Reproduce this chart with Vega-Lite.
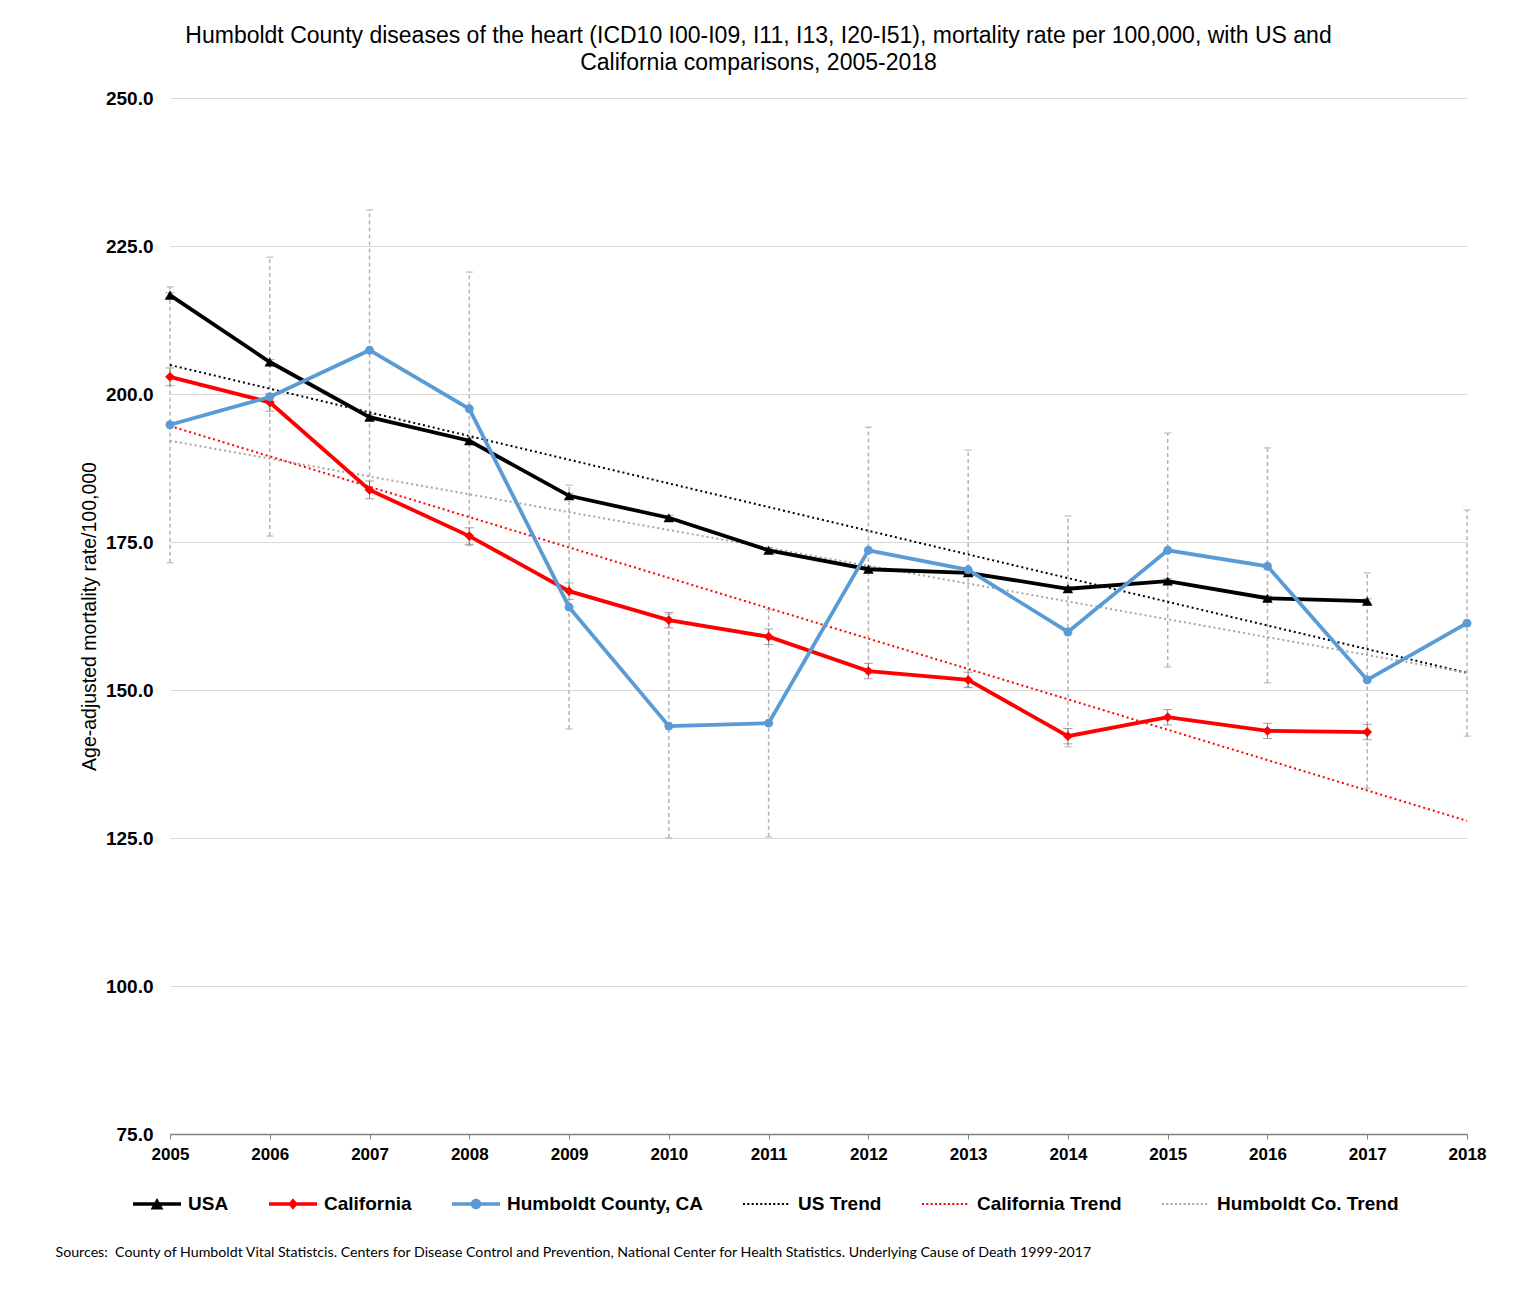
{
  "$schema": "https://vega.github.io/schema/vega-lite/v6.json",
  "width": 1297,
  "height": 1036,
  "autosize": {"type": "none"},
  "padding": {"left": 170, "top": 98, "right": 46, "bottom": 156},
  "background": "white",
  "config": {"view": {"stroke": null}, "font": "Liberation Sans"},
  "title": {
    "text": ["Humboldt County diseases of the heart (ICD10 I00-I09, I11, I13, I20-I51),  mortality rate per 100,000, with US and", "California comparisons, 2005-2018"],
    "fontSize": 23,
    "fontWeight": "normal",
    "font": "Liberation Sans",
    "color": "#000000",
    "anchor": "middle",
    "dx": -60,
    "offset": 14,
    "lineHeight": 27
  },
  "datasets": {
    "rates": [
      {"year": 2005, "series": "USA", "rate": 216.7, "lo": 216.3, "hi": 217.1},
      {"year": 2006, "series": "USA", "rate": 205.4, "lo": 205.0, "hi": 205.8},
      {"year": 2007, "series": "USA", "rate": 196.1, "lo": 195.7, "hi": 196.5},
      {"year": 2008, "series": "USA", "rate": 192.1, "lo": 191.7, "hi": 192.5},
      {"year": 2009, "series": "USA", "rate": 182.8, "lo": 182.4, "hi": 183.2},
      {"year": 2010, "series": "USA", "rate": 179.1, "lo": 178.7, "hi": 179.5},
      {"year": 2011, "series": "USA", "rate": 173.6, "lo": 173.2, "hi": 174.0},
      {"year": 2012, "series": "USA", "rate": 170.4, "lo": 170.0, "hi": 170.8},
      {"year": 2013, "series": "USA", "rate": 169.8, "lo": 169.4, "hi": 170.2},
      {"year": 2014, "series": "USA", "rate": 167.1, "lo": 166.7, "hi": 167.5},
      {"year": 2015, "series": "USA", "rate": 168.4, "lo": 168.0, "hi": 168.8},
      {"year": 2016, "series": "USA", "rate": 165.5, "lo": 165.1, "hi": 165.9},
      {"year": 2017, "series": "USA", "rate": 165.0, "lo": 164.6, "hi": 165.4},
      {"year": 2005, "series": "California", "rate": 202.9, "lo": 201.4, "hi": 204.4},
      {"year": 2006, "series": "California", "rate": 198.6, "lo": 197.1, "hi": 200.1},
      {"year": 2007, "series": "California", "rate": 183.8, "lo": 182.3, "hi": 185.3},
      {"year": 2008, "series": "California", "rate": 176.0, "lo": 174.6, "hi": 177.4},
      {"year": 2009, "series": "California", "rate": 166.7, "lo": 165.3, "hi": 168.1},
      {"year": 2010, "series": "California", "rate": 161.8, "lo": 160.5, "hi": 163.1},
      {"year": 2011, "series": "California", "rate": 159.0, "lo": 157.7, "hi": 160.3},
      {"year": 2012, "series": "California", "rate": 153.2, "lo": 151.9, "hi": 154.5},
      {"year": 2013, "series": "California", "rate": 151.7, "lo": 150.4, "hi": 153.0},
      {"year": 2014, "series": "California", "rate": 142.2, "lo": 140.9, "hi": 143.5},
      {"year": 2015, "series": "California", "rate": 145.4, "lo": 144.1, "hi": 146.7},
      {"year": 2016, "series": "California", "rate": 143.1, "lo": 141.8, "hi": 144.4},
      {"year": 2017, "series": "California", "rate": 142.9, "lo": 141.6, "hi": 144.2},
      {"year": 2005, "series": "Humboldt County, CA", "rate": 194.8, "lo": 171.5, "hi": 218.1},
      {"year": 2006, "series": "Humboldt County, CA", "rate": 199.5, "lo": 176.0, "hi": 223.1},
      {"year": 2007, "series": "Humboldt County, CA", "rate": 207.4, "lo": 183.7, "hi": 231.1},
      {"year": 2008, "series": "Humboldt County, CA", "rate": 197.5, "lo": 174.4, "hi": 220.6},
      {"year": 2009, "series": "Humboldt County, CA", "rate": 164.0, "lo": 143.4, "hi": 184.6},
      {"year": 2010, "series": "Humboldt County, CA", "rate": 143.9, "lo": 125.0, "hi": 162.8},
      {"year": 2011, "series": "Humboldt County, CA", "rate": 144.4, "lo": 125.2, "hi": 163.6},
      {"year": 2012, "series": "Humboldt County, CA", "rate": 173.6, "lo": 152.8, "hi": 194.4},
      {"year": 2013, "series": "Humboldt County, CA", "rate": 170.3, "lo": 150.5, "hi": 190.5},
      {"year": 2014, "series": "Humboldt County, CA", "rate": 159.8, "lo": 140.4, "hi": 179.4},
      {"year": 2015, "series": "Humboldt County, CA", "rate": 173.6, "lo": 153.9, "hi": 193.4},
      {"year": 2016, "series": "Humboldt County, CA", "rate": 170.9, "lo": 151.2, "hi": 190.9},
      {"year": 2017, "series": "Humboldt County, CA", "rate": 151.7, "lo": 133.4, "hi": 169.8},
      {"year": 2018, "series": "Humboldt County, CA", "rate": 161.3, "lo": 142.2, "hi": 180.4}
    ],
    "trend": [
      {"year": 2005, "series": "US Trend", "rate": 204.9},
      {"year": 2018, "series": "US Trend", "rate": 152.9},
      {"year": 2005, "series": "California Trend", "rate": 194.6},
      {"year": 2018, "series": "California Trend", "rate": 127.9},
      {"year": 2005, "series": "Humboldt Co. Trend", "rate": 192.1},
      {"year": 2018, "series": "Humboldt Co. Trend", "rate": 152.9}
    ]
  },
  "encoding": {
    "x": {
      "field": "year",
      "type": "quantitative",
      "scale": {"domain": [2005, 2018], "nice": false, "zero": false},
      "axis": {
        "values": [2005, 2006, 2007, 2008, 2009, 2010, 2011, 2012, 2013, 2014, 2015, 2016, 2017, 2018],
        "format": "d",
        "labelFlush": false,
        "labelFont": "Liberation Sans",
        "labelFontSize": 17,
        "labelFontWeight": "bold",
        "labelColor": "#000000",
        "domainColor": "#808080",
        "domainWidth": 1.5,
        "tickColor": "#808080",
        "tickSize": 5,
        "tickWidth": 1,
        "labelPadding": 7,
        "grid": false,
        "title": "Sources:\u00a0 County of Humboldt Vital Statistcis. Centers for Disease Control and Prevention, National Center for Health Statistics. Underlying Cause of Death 1999-2017",
        "titleFont": "Lato",
        "titleFontSize": 14.2,
        "titleFontWeight": "normal",
        "titleColor": "#000000",
        "titleAnchor": "start",
        "titleAlign": "left",
        "titleX": -115,
        "titleY": 118,
        "titleBaseline": "middle"
      }
    }
  },
  "layer": [
    {
      "data": {"name": "rates"},
      "transform": [{"filter": "datum.series === 'Humboldt County, CA'"}],
      "mark": {"type": "rule", "color": "#b4b4b4", "strokeWidth": 1.5, "strokeDash": [4, 3]},
      "encoding": {
        "y": {"field": "lo", "type": "quantitative", "title": "Age-adjusted mortality rate/100,000"},
        "y2": {"field": "hi"}
      }
    },
    {
      "data": {"name": "rates"},
      "transform": [{"filter": "datum.series === 'Humboldt County, CA'"}],
      "mark": {"type": "tick", "orient": "horizontal", "color": "#b4b4b4", "size": 7, "thickness": 1.5},
      "encoding": {"y": {"field": "lo", "type": "quantitative", "title": "Age-adjusted mortality rate/100,000"}}
    },
    {
      "data": {"name": "rates"},
      "transform": [{"filter": "datum.series === 'Humboldt County, CA'"}],
      "mark": {"type": "tick", "orient": "horizontal", "color": "#b4b4b4", "size": 7, "thickness": 1.5},
      "encoding": {"y": {"field": "hi", "type": "quantitative", "title": "Age-adjusted mortality rate/100,000"}}
    },
    {
      "data": {"name": "rates"},
      "transform": [{"filter": "datum.series !== 'Humboldt County, CA'"}],
      "mark": {"type": "rule", "color": "#7f7f7f", "strokeWidth": 1},
      "encoding": {
        "y": {"field": "lo", "type": "quantitative", "title": "Age-adjusted mortality rate/100,000"},
        "y2": {"field": "hi"}
      }
    },
    {
      "data": {"name": "rates"},
      "transform": [{"filter": "datum.series !== 'Humboldt County, CA'"}],
      "mark": {"type": "tick", "orient": "horizontal", "color": "#7f7f7f", "size": 9, "thickness": 1},
      "encoding": {"y": {"field": "lo", "type": "quantitative", "title": "Age-adjusted mortality rate/100,000"}}
    },
    {
      "data": {"name": "rates"},
      "transform": [{"filter": "datum.series !== 'Humboldt County, CA'"}],
      "mark": {"type": "tick", "orient": "horizontal", "color": "#7f7f7f", "size": 9, "thickness": 1},
      "encoding": {"y": {"field": "hi", "type": "quantitative", "title": "Age-adjusted mortality rate/100,000"}}
    },
    {
      "data": {"name": "trend"},
      "mark": {"type": "line", "strokeWidth": 2, "strokeDash": [2, 3]},
      "encoding": {
        "y": {"field": "rate", "type": "quantitative", "title": "Age-adjusted mortality rate/100,000"},
        "color": {
          "field": "series",
          "type": "nominal",
          "scale": {
            "domain": ["USA", "California", "Humboldt County, CA", "US Trend", "California Trend", "Humboldt Co. Trend"],
            "range": ["#000000", "#ff0000", "#5b9bd5", "#000000", "#ff0000", "#a6a6a6"]
          }
        }
      }
    },
    {
      "data": {"name": "rates"},
      "mark": {"type": "line", "strokeWidth": 3.8},
      "encoding": {
        "y": {
          "field": "rate",
          "type": "quantitative",
          "title": "Age-adjusted mortality rate/100,000",
          "scale": {"domain": [75, 250], "nice": false, "zero": false},
          "axis": {
            "values": [75, 100, 125, 150, 175, 200, 225, 250],
            "format": ".1f",
            "labelFont": "Liberation Sans",
            "labelFontSize": 19,
            "labelFontWeight": "bold",
            "labelColor": "#000000",
            "labelPadding": 17,
            "ticks": false,
            "domain": false,
            "grid": true,
            "gridColor": "#d9d9d9",
            "gridWidth": 1,
            "titleFont": "Liberation Sans",
            "titleFontSize": 19.5,
            "titleFontWeight": "normal",
            "titleColor": "#000000",
            "titlePadding": 6
          }
        },
        "color": {
          "field": "series",
          "type": "nominal",
          "scale": {
            "domain": ["USA", "California", "Humboldt County, CA", "US Trend", "California Trend", "Humboldt Co. Trend"],
            "range": ["#000000", "#ff0000", "#5b9bd5", "#000000", "#ff0000", "#a6a6a6"]
          },
          "legend": {
            "orient": "none",
            "legendX": -37,
            "legendY": 1082,
            "direction": "horizontal",
            "columns": 6,
            "title": null,
            "padding": 0,
            "labelFont": "Liberation Sans",
            "labelFontSize": 19,
            "labelFontWeight": "bold",
            "labelColor": "#000000",
            "labelLimit": 0,
            "labelOffset": 7,
            "columnPadding": 40,
            "symbolSize": 2304,
            "symbolStrokeWidth": 0,
            "symbolOpacity": 1,
            "encode": {
              "symbols": {
                "update": {
                  "shape": {"signal": "datum.value === 'USA' ? 'M-1,-0.07H1V0.07H-1ZM-0.27,0.23L0,-0.25L0.27,0.23Z' : datum.value === 'California' ? 'M-1,-0.07H1V0.07H-1ZM0,-0.24L0.2,0L0,0.24L-0.2,0Z' : datum.value === 'Humboldt County, CA' ? 'M-1,-0.07H1V0.07H-1ZM-0.22,0A0.22,0.22,0,1,1,0.22,0A0.22,0.22,0,1,1,-0.22,0Z' : 'M-1,-0.045h0.085v0.09h-0.085ZM-0.82,-0.045h0.085v0.09h-0.085ZM-0.64,-0.045h0.085v0.09h-0.085ZM-0.46,-0.045h0.085v0.09h-0.085ZM-0.28,-0.045h0.085v0.09h-0.085ZM-0.1,-0.045h0.085v0.09h-0.085ZM0.08,-0.045h0.085v0.09h-0.085ZM0.26,-0.045h0.085v0.09h-0.085ZM0.44,-0.045h0.085v0.09h-0.085ZM0.62,-0.045h0.085v0.09h-0.085ZM0.8,-0.045h0.085v0.09h-0.085Z'"},
                  "fill": {"signal": "(datum.value === 'USA' || datum.value === 'US Trend') ? '#000000' : (datum.value === 'California' || datum.value === 'California Trend') ? '#ff0000' : datum.value === 'Humboldt County, CA' ? '#5b9bd5' : '#a6a6a6'"},
                  "stroke": {"value": "transparent"},
                  "strokeWidth": {"value": 0},
                  "opacity": {"value": 1},
                  "fillOpacity": {"value": 1}
                }
              }
            }
          }
        }
      }
    },
    {
      "data": {"name": "rates"},
      "mark": {"type": "point", "filled": true, "opacity": 1, "strokeWidth": 0},
      "encoding": {
        "y": {"field": "rate", "type": "quantitative", "title": "Age-adjusted mortality rate/100,000"},
        "color": {
          "field": "series",
          "type": "nominal",
          "scale": {
            "domain": ["USA", "California", "Humboldt County, CA", "US Trend", "California Trend", "Humboldt Co. Trend"],
            "range": ["#000000", "#ff0000", "#5b9bd5", "#000000", "#ff0000", "#a6a6a6"]
          }
        },
        "shape": {
          "field": "series",
          "type": "nominal",
          "scale": {"domain": ["USA", "California", "Humboldt County, CA"], "range": ["triangle-up", "diamond", "circle"]},
          "legend": null
        },
        "size": {
          "field": "series",
          "type": "nominal",
          "scale": {"domain": ["USA", "California", "Humboldt County, CA"], "range": [110, 80, 110]},
          "legend": null
        }
      }
    }
  ]
}
